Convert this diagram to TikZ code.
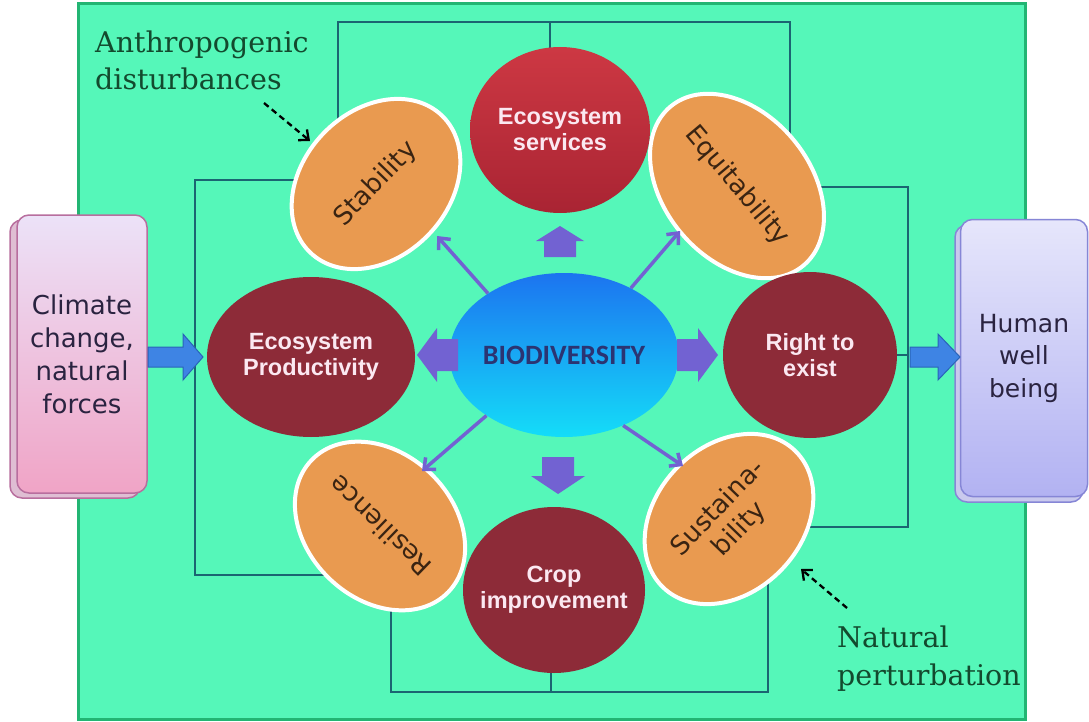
\documentclass[tikz,border=0pt]{standalone}
\usepackage{fontspec}
\usetikzlibrary{shapes.geometric,arrows.meta}
\newfontfamily\dvs{DejaVu Sans}
\newfontfamily\dvserif{DejaVu Serif}
\newfontfamily\lsans{Liberation Sans}
\newfontfamily\carl{Carlito}
\definecolor{bgfill}{HTML}{55F7B9}
\definecolor{bgline}{HTML}{22B573}
\definecolor{connc}{HTML}{1B6572}
\definecolor{purp}{HTML}{7262D2}
\definecolor{orng}{HTML}{E99A50}
\definecolor{otext}{HTML}{3A2412}
\definecolor{maroonc}{HTML}{8D2B38}
\definecolor{redtop}{HTML}{CD3843}
\definecolor{redbot}{HTML}{A92433}
\definecolor{ctext}{HTML}{FBE8F1}
\definecolor{biotop}{HTML}{1C74F0}
\definecolor{biobot}{HTML}{14DDF8}
\definecolor{biotext}{HTML}{2B3472}
\definecolor{annot}{HTML}{134A2E}
\definecolor{bluearr}{HTML}{3E84E4}
\definecolor{bluearrd}{HTML}{2A64B8}
\definecolor{climtop}{HTML}{ECE2F8}
\definecolor{climbot}{HTML}{F0A4C6}
\definecolor{climline}{HTML}{B86E9E}
\definecolor{humtop}{HTML}{E6E6FB}
\definecolor{humbot}{HTML}{B2B2F2}
\definecolor{humline}{HTML}{8686D6}
\definecolor{boxtext}{HTML}{2A2340}
\pgfdeclarelayer{back}\pgfdeclarelayer{lines}\pgfsetlayers{back,lines,main}
\tikzset{
 oell/.style={ellipse, minimum width=190pt, minimum height=146pt, fill=orng, draw=white, line width=4pt, text=otext, font=\dvs\fontsize{26}{30}\selectfont, inner sep=0pt, align=center},
 circ/.style={ellipse, inner sep=-16pt, text=ctext, font=\lsans\bfseries\fontsize{23.5}{26}\selectfont, align=center},
 mcirc/.style={circ, fill=maroonc},
 rcirc/.style={circ, top color=redtop, bottom color=redbot},
 connl/.style={draw=connc, line width=2.2pt},
 parrl/.style={draw=purp, line width=3.5pt, -{Straight Barb[length=9pt,width=16pt]}},
 dasharr/.style={draw=black, line width=2.3pt, dash pattern=on 6pt off 4pt, -{Straight Barb[length=8pt,width=14pt]}},
 annottext/.style={text=annot, font=\dvserif\fontsize{28.5}{37}\selectfont, inner sep=0pt, anchor=base west},
 boxnode/.style={rectangle, rounded corners=12pt, inner sep=0pt, align=center, text=boxtext, line width=1.5pt},
 pfill/.style={fill=purp},
 bfill/.style={fill=bluearr, draw=bluearrd, line width=1pt},
 pics/barrow/.style n args={5}{code={\path[#5] (0,-#2) -- ({#1-#4},-#2) -- ({#1-#4},-#3) -- (#1,0) -- ({#1-#4},#3) -- ({#1-#4},#2) -- (0,#2) -- cycle;}},
}
\begin{document}
\begin{tikzpicture}[x=1pt,y=-1pt]
\useasboundingbox (0,0) rectangle (1089,722);
\begin{pgfonlayer}{back}
\fill[white] (0,0) rectangle (1089,722);
\draw[fill=bgfill, draw=bgline, line width=3pt] (78,4) rectangle (1025,719);
\filldraw[fill=climline!45, draw=climline, line width=1.5pt, rounded corners=12pt] (10,220) rectangle (140,498);
\filldraw[fill=humline!45, draw=humline, line width=1.5pt, rounded corners=12pt] (955,225) rectangle (1083,502);
\end{pgfonlayer}

% side boxes
\node[boxnode, minimum width=130pt, minimum height=278pt, top color=climtop, bottom color=climbot, draw=climline, font=\dvs\fontsize{26}{33}\selectfont] (clim) at (82,354) {Climate\\change,\\natural\\forces};
\node[boxnode, minimum width=127pt, minimum height=277pt, top color=humtop, bottom color=humbot, draw=humline, font=\dvs\fontsize{25}{32.5}\selectfont] (hum) at (1024,358) {Human\\well\\being};

% orange ellipses
\node[oell, rotate=46] (stab) at (376,184) {Stability};
\node[oell, rotate=-50] (equi) at (737,186) {Equitability};
\node[oell, rotate=136] (resi) at (380,526) {Resilience};
\node[oell, rotate=46] (sust) at (729,519) {Sustaina-\\bility};

% circles
\node[rcirc, minimum width=180pt, minimum height=166pt] (eserv) at (560,130) {Ecosystem\\services};
\node[mcirc, minimum width=208pt, minimum height=160pt] (eprod) at (311,357) {Ecosystem\\Productivity};
\node[mcirc, minimum width=174pt, minimum height=166pt] (rte) at (810,355) {Right to\\exist};
\node[mcirc, minimum width=182pt, minimum height=166pt] (crop) at (554,590) {Crop\\improvement};

% center
\node[ellipse, minimum width=204pt, minimum height=164pt, top color=biotop, bottom color=biobot, text=biotext, font=\carl\bfseries\fontsize{28}{30}\selectfont, inner sep=0pt] (bio) at (564,355) {BIODIVERSITY};

% annotations
\node[annottext] (anth1) at (95,53) {Anthropogenic};
\node[annottext] (anth2) at (95,90) {disturbances};
\node[annottext] (nat1) at (837,647) {Natural};
\node[annottext] (nat2) at (837,685) {perturbation};

% connector lines (behind shapes)
\begin{pgfonlayer}{lines}
\coordinate (tL) at (338,22); \coordinate (tR) at (790,22); \coordinate (tM) at (550,22);
\draw[connl] (stab.center -| tL) -- (tL) -- (tR) -- (equi.center -| tR);
\draw[connl] (tM) -- (eserv.center -| tM);
\coordinate (lT) at (195,180); \coordinate (lB) at (195,575);
\draw[connl] (stab.center |- lT) -- (lT) -- (lB) -- (resi.center |- lB);
\coordinate (rT) at (908,187); \coordinate (rB) at (908,527);
\draw[connl] (equi.center |- rT) -- (rT) -- (rB) -- (sust.center |- rB);
\draw[connl] (rte.center) -- (rte.center -| rT);
\coordinate (bL) at (391,692); \coordinate (bR) at (768,692); \coordinate (bM) at (551,692);
\draw[connl] (resi.center -| bL) -- (bL) -- (bR) -- (sust.center -| bR);
\draw[connl] (bM) -- (crop.center -| bM);
\end{pgfonlayer}

% block arrows
\pic at (148,357) {barrow={55}{10}{23}{20}{bfill}};
\pic at (910,357) {barrow={50}{10}{23}{22}{bfill}};
\pic[rotate=180] at (458,355) {barrow={41}{16}{27}{20}{pfill}};
\pic at (677,355) {barrow={41}{16}{27}{20}{pfill}};
\pic[rotate=90] at (560,257) {barrow={31}{16}{24}{15}{pfill}};
\pic[rotate=-90] at (558,457) {barrow={37}{16}{27}{18}{pfill}};

% thin purple arrows
\coordinate (tnw) at (437,236); \coordinate (tne) at (680,231);
\coordinate (tsw) at (422,471); \coordinate (tse) at (683,466);
\draw[parrl] (bio.141) -- (tnw);
\draw[parrl] (bio.45) -- (tne);
\draw[parrl] (bio.218) -- (tsw);
\draw[parrl] (bio.-50) -- (tse);

% dashed annotation arrows
\coordinate (da1) at (264,103); \coordinate (da2) at (310,141);
\draw[dasharr] (da1) -- (da2);
\coordinate (dn1) at (847,608); \coordinate (dn2) at (801,569);
\draw[dasharr] (dn1) -- (dn2);
\end{tikzpicture}
\end{document}
